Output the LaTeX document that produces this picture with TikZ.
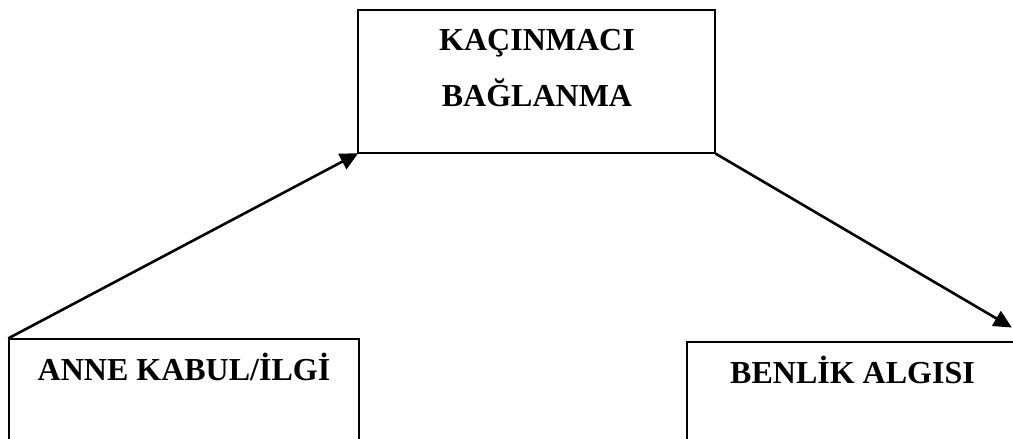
\documentclass[tikz,border=0pt]{standalone}
\usepackage{fontspec}
\setmainfont{Liberation Serif}
\usetikzlibrary{arrows.meta}
\tikzset{
  box/.style={draw=black, line width=1.3pt, rectangle, inner sep=0pt},
  lbl/.style={font=\bfseries\fontsize{32}{38}\selectfont, anchor=base, inner sep=0pt},
  conn/.style={line width=2.6pt, -{Triangle[length=18pt,width=17pt]}, shorten >=-1pt}
}
\begin{document}
\begin{tikzpicture}[x=1pt,y=-1pt]
\useasboundingbox (0,0) rectangle (1013,439);
\clip (0,0) rectangle (1013,439);
\node[box, minimum width=357pt, minimum height=143pt] (top) at (536.5,81.5) {};
\node[box, minimum width=350pt, minimum height=131pt] (left) at (184,404.5) {};
\node[box, minimum width=353pt, minimum height=128pt] (right) at (863.5,406) {};
\node[lbl] (t1) at (537,50) {KAÇINMACI};
\node[lbl] (t2) at (537,106) {BAĞLANMA};
\node[lbl] (l1) at (184,380) {ANNE KABUL/İLGİ};
\node[lbl] (r1) at (852.5,383) {BENLİK ALGISI};
\coordinate (rend) at (1011,327);
\draw[conn] (left.north west) -- (top.south west);
\draw[conn] (top.south east) -- (rend);
\end{tikzpicture}
\end{document}
